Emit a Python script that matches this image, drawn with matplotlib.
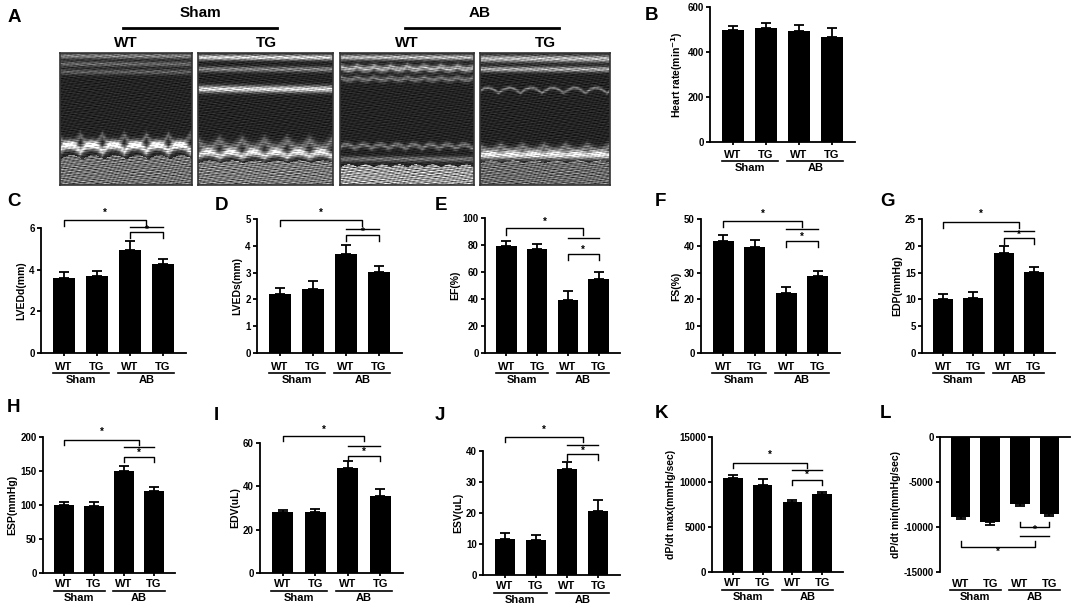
import numpy as np
import matplotlib
matplotlib.use("Agg")
import matplotlib.pyplot as plt

plt.rcParams['font.family'] = ['Liberation Sans', 'DejaVu Sans']
plt.rcParams['font.weight'] = 'bold'
plt.rcParams['axes.labelweight'] = 'bold'

# ---------------- data ----------------
bar_labels = ["WT", "TG", "WT", "TG"]
group_labels = ["Sham", "AB"]

heart_rate = [500, 505, 492, 466]
heart_rate_err = [17, 22, 30, 40]
lvedd = [3.62, 3.68, 4.95, 4.27]
lvedd_err = [0.25, 0.27, 0.42, 0.26]
lveds = [2.20, 2.39, 3.71, 3.01]
lveds_err = [0.23, 0.28, 0.33, 0.25]
ef = [79, 77, 39, 55]
ef_err = [3.7, 3.7, 7.2, 5.0]
fs = [41.9, 39.5, 22.3, 28.9]
fs_err = [2.1, 2.8, 2.5, 1.7]
edp = [10.0, 10.2, 18.6, 15.2]
edp_err = [1.0, 1.15, 1.4, 0.8]
esp = [99.8, 98.8, 150.6, 121.0]
esp_err = [4.9, 5.9, 6.4, 6.0]
edv = [28.2, 28.2, 48.5, 35.4]
edv_err = [1.0, 1.3, 3.0, 3.5]
esv = [11.5, 11.3, 34.3, 20.6]
esv_err = [1.9, 1.6, 2.2, 3.7]
dpdt_max = [10420, 9670, 7820, 8710]
dpdt_max_err = [370, 620, 210, 180]
dpdt_min = [-8900, -9450, -7400, -8600]
dpdt_min_err = [200, 350, 220, 170]

echo_titles_top = ["Sham", "AB"]
echo_titles_sub = ["WT", "TG", "WT", "TG"]

# ---------------- figure ----------------
W, H = 1072, 607
fig = plt.figure(figsize=(W / 100, H / 100), dpi=100)
fig.patch.set_facecolor('white')


def px_axes(l, t, r, b):
    return fig.add_axes([l / W, 1 - b / H, (r - l) / W, (b - t) / H])


def fig_text(x, y, s, **kw):
    fig.text(x / W, 1 - y / H, s, **kw)


def fig_line(x0, x1, y, lw=2.0):
    fig.add_artist(plt.Line2D([x0 / W, x1 / W], [1 - y / H, 1 - y / H],
                              color='black', lw=lw, transform=fig.transFigure))


LW = 1.3


def bar_panel(box, vals, errs, ylim, yticks, ylabel, letter, letter_xy,
              negative=False, label_off=(13, 20, 27)):
    l, t, r, b = box
    ax = px_axes(l, t, r, b)
    hpx = b - t
    x = np.arange(len(vals))
    ax.bar(x, vals, width=0.66, color='black', zorder=2)
    if negative:
        yerr = [errs, [0] * len(errs)]
    else:
        yerr = [[0] * len(errs), errs]
    ax.errorbar(x, vals, yerr=yerr, fmt='none', ecolor='black',
                elinewidth=LW, capsize=3.3, capthick=LW, zorder=3)
    ax.set_xlim(-0.7, 3.7)
    ax.set_ylim(*ylim)
    ax.set_yticks(yticks)
    ax.set_yticklabels([str(v) for v in yticks])
    for s in ['top', 'right']:
        ax.spines[s].set_visible(False)
    ax.spines['left'].set_linewidth(LW)
    ax.spines['bottom'].set_linewidth(LW)
    if negative:
        ax.spines['bottom'].set_visible(False)
        ax.spines['top'].set_visible(True)
        ax.spines['top'].set_linewidth(LW)
    ax.tick_params(axis='y', length=3, width=LW, labelsize=7, pad=1.5)
    ax.set_xticks(x)
    ax.set_xticklabels(bar_labels, fontsize=8, fontweight='bold')
    if negative:
        ax.tick_params(axis='x', length=0, pad=label_off[0] - 6)
    else:
        ax.tick_params(axis='x', length=2.5, width=LW, pad=label_off[0] - 9)
    ax.set_ylabel(ylabel, fontsize=7.5, fontweight='bold', labelpad=2)
    tr = ax.get_xaxis_transform()
    yl = -label_off[1] / hpx
    yt = -label_off[2] / hpx
    for gi, gname in enumerate(group_labels):
        c = 2 * gi + 0.5
        ax.plot([c - 0.85, c + 0.85], [yl, yl], color='black', lw=1.2,
                transform=tr, clip_on=False)
        ax.text(c, yt, gname, transform=tr, ha='center', va='center',
                fontsize=8, fontweight='bold')
    fig_text(letter_xy[0], letter_xy[1], letter, fontsize=13.5,
             fontweight='bold', ha='left', va='center')
    return ax


def bracket(ax, x0, x1, y, tick, up=False):
    d = tick if up else -tick
    ax.plot([x0, x0, x1, x1], [y + d, y, y, y + d], color='black', lw=1.0,
            clip_on=False)


def hline(ax, x0, x1, y):
    ax.plot([x0, x1], [y, y], color='black', lw=1.0, clip_on=False)


def star(ax, x, y):
    ax.text(x, y, '*', ha='center', va='center', fontsize=7,
            fontweight='bold', clip_on=False)


def std_annot(ax, y_top, t_top, s_top, y_line, y_low, t_low, s_low):
    bracket(ax, 0, 2.5, y_top, t_top)
    star(ax, 1.25, s_top)
    hline(ax, 2, 3, y_line)
    bracket(ax, 2, 3, y_low, t_low)
    star(ax, 2.5, s_low)


# ---------------- panel A: M-mode echo images (illustrative texture) ----------------
def echo_image(bands, bottom, speck, h=132, w=132):
    yy, xx = np.mgrid[0:h, 0:w].astype(float)
    fy = yy / h
    fx = xx / w
    grain = (np.sin(0.31 * xx + 2.7 * yy + np.sin(0.5 * yy))
             + np.sin(0.47 * xx - 1.9 * yy + 1.3)
             + 0.7 * np.sin(1.3 * xx + 0.8 * yy + 3 * np.sin(0.11 * xx))
             + 0.6 * np.sin(0.13 * xx + 3.9 * yy + 2 * np.sin(0.37 * xx))) / 3.3
    img = 0.14 + speck * grain
    for c, amp, thick, bright, beats, ph in bands:
        center = c + amp * np.abs(np.sin(np.pi * beats * fx + ph))
        img = img + bright * np.exp(-((fy - center) / thick) ** 2) * \
            (0.75 + 0.25 * grain)
    start, amp, beats, bright = bottom
    edge = start - amp * np.abs(np.sin(np.pi * beats * fx))
    tex = 0.55 + 0.45 * grain
    img = img + bright * (fy > edge) * tex
    return np.clip(img, 0, 1)


echo_specs = [
    # Sham WT
    dict(bands=[(0.02, 0.0, 0.02, 0.5, 6, 0), (0.08, 0.0, 0.02, 0.35, 6, 0),
                (0.14, 0.0, 0.02, 0.3, 6, 0), (0.62, 0.08, 0.03, 0.35, 6, 0.3),
                (0.74, -0.05, 0.035, 0.95, 6, 0.3)],
         bottom=(0.80, 0.03, 6, 0.55), speck=0.10),
    # Sham TG
    dict(bands=[(0.03, 0.0, 0.02, 0.95, 6, 0), (0.12, 0.0, 0.02, 0.5, 6, 0),
                (0.27, 0.0, 0.025, 0.95, 6, 0), (0.66, 0.06, 0.04, 0.4, 6, 0.2),
                (0.78, -0.03, 0.03, 0.9, 6, 0.2)],
         bottom=(0.83, 0.02, 6, 0.6), speck=0.11),
    # AB WT
    dict(bands=[(0.03, 0.0, 0.02, 0.8, 8, 0), (0.10, 0.02, 0.025, 0.7, 8, 0),
                (0.18, 0.02, 0.02, 0.4, 8, 0), (0.72, -0.03, 0.02, 0.4, 8, 0.4),
                (0.80, 0.0, 0.02, 0.4, 8, 0.4)],
         bottom=(0.86, 0.02, 8, 0.85), speck=0.10),
    # AB TG
    dict(bands=[(0.04, 0.0, 0.025, 0.8, 6, 0), (0.12, 0.0, 0.02, 0.7, 6, 0),
                (0.30, -0.04, 0.012, 0.45, 6, 0.5), (0.70, 0.04, 0.03, 0.4, 6, 0.2),
                (0.77, 0.0, 0.03, 0.95, 6, 0.2)],
         bottom=(0.83, 0.02, 6, 0.5), speck=0.11),
]
echo_boxes = [(60, 53, 192, 185), (198, 53, 333, 185), (340, 53, 474, 185),
              (480, 53, 610, 185)]
for box, spec in zip(echo_boxes, echo_specs):
    ax = px_axes(*box)
    ax.imshow(echo_image(**spec), cmap='gray', vmin=0, vmax=1,
              aspect='auto', interpolation='bilinear')
    ax.set_xticks([])
    ax.set_yticks([])
    for s in ax.spines.values():
        s.set_linewidth(1.2)
        s.set_edgecolor('#333333')

fig_text(8, 17, "A", fontsize=13.5, fontweight='bold', ha='left', va='center')
fig_text(200, 13, echo_titles_top[0], fontsize=11, fontweight='bold', ha='center', va='center')
fig_line(123, 277, 28)
fig_text(480, 13, echo_titles_top[1], fontsize=11, fontweight='bold', ha='center', va='center')
fig_line(405, 559, 28)
sub_x = [126, 266, 407, 545]
for sx, s in zip(sub_x, echo_titles_sub):
    fig_text(sx, 43, s, fontsize=11, fontweight='bold', ha='center', va='center')

# ---------------- panel B ----------------
axB = bar_panel((710, 7, 855, 142), heart_rate, heart_rate_err, (0, 600),
                [0, 200, 400, 600], "Heart rate(min$^{-1}$)", "B", (645, 16),
                label_off=(12, 19, 26))

# ---------------- middle row ----------------
axC = bar_panel((41, 228, 186, 353), lvedd, lvedd_err, (0, 6), [0, 2, 4, 6],
                "LVEDd(mm)", "C", (7, 201))
std_annot(axC, 6.4, 0.32, 6.75, 6.05, 5.8, 0.27, 5.92)

axD = bar_panel((257, 219, 402, 353), lveds, lveds_err, (0, 5), [0, 1, 2, 3, 4, 5],
                "LVEDs(mm)", "D", (215, 205))
std_annot(axD, 4.98, 0.23, 5.22, 4.63, 4.42, 0.23, 4.52)

axE = bar_panel((485, 218, 620, 353), ef, ef_err, (0, 100), [0, 20, 40, 60, 80, 100],
                "EF(%)", "E", (435, 205))
std_annot(axE, 92.6, 4.9, 97.5, 85.2, 73.6, 4.6, 76.5)

axF = bar_panel((701, 219, 840, 353), fs, fs_err, (0, 50), [0, 10, 20, 30, 40, 50],
                "FS(%)", "F", (655, 201))
std_annot(axF, 49.4, 2.3, 52.1, 46.2, 41.9, 2.2, 43.5)

axG = bar_panel((922, 219, 1055, 353), edp, edp_err, (0, 25), [0, 5, 10, 15, 20, 25],
                "EDP(mmHg)", "G", (880, 201))
std_annot(axG, 24.5, 1.2, 25.9, 22.7, 21.4, 1.1, 22.0)

# ---------------- bottom row ----------------
bot = (11, 18, 25)
axH = bar_panel((43, 437, 175, 573), esp, esp_err, (0, 200), [0, 50, 100, 150, 200],
                "ESP(mmHg)", "H", (7, 408), label_off=bot)
std_annot(axH, 196, 8.4, 207, 185, 171, 8, 177)

axI = bar_panel((260, 443, 403, 573), edv, edv_err, (0, 60), [0, 20, 40, 60],
                "EDV(uL)", "I", (214, 415), label_off=bot)
std_annot(axI, 63.1, 2.3, 66.2, 58.5, 54.2, 2.6, 56.0)

axJ = bar_panel((483, 451, 620, 575), esv, esv_err, (0, 40), [0, 10, 20, 30, 40],
                "ESV(uL)", "J", (435, 415), label_off=bot)
std_annot(axJ, 44.5, 1.6, 46.7, 41.8, 39.1, 1.9, 40.2)

axK = bar_panel((712, 437, 843, 572), dpdt_max, dpdt_max_err, (0, 15000),
                [0, 5000, 10000, 15000], "dP/dt max(mmHg/sec)", "K", (655, 414),
                label_off=bot)
std_annot(axK, 12111, 520, 12963, 11370, 10185, 555, 10741)

axL = bar_panel((940, 437, 1070, 572), dpdt_min, dpdt_min_err, (-15000, 0),
                [-15000, -10000, -5000, 0], "dP/dt min(mmHg/sec)", "L", (880, 414),
                negative=True, label_off=bot)
bracket(axL, 2, 3, -10000, 550, up=True)
star(axL, 2.5, -10370)
hline(axL, 2, 3, -11037)
bracket(axL, 0, 2.5, -12222, 630, up=True)
star(axL, 1.25, -12778)

fig.savefig("out.png", dpi=100, facecolor='white')
